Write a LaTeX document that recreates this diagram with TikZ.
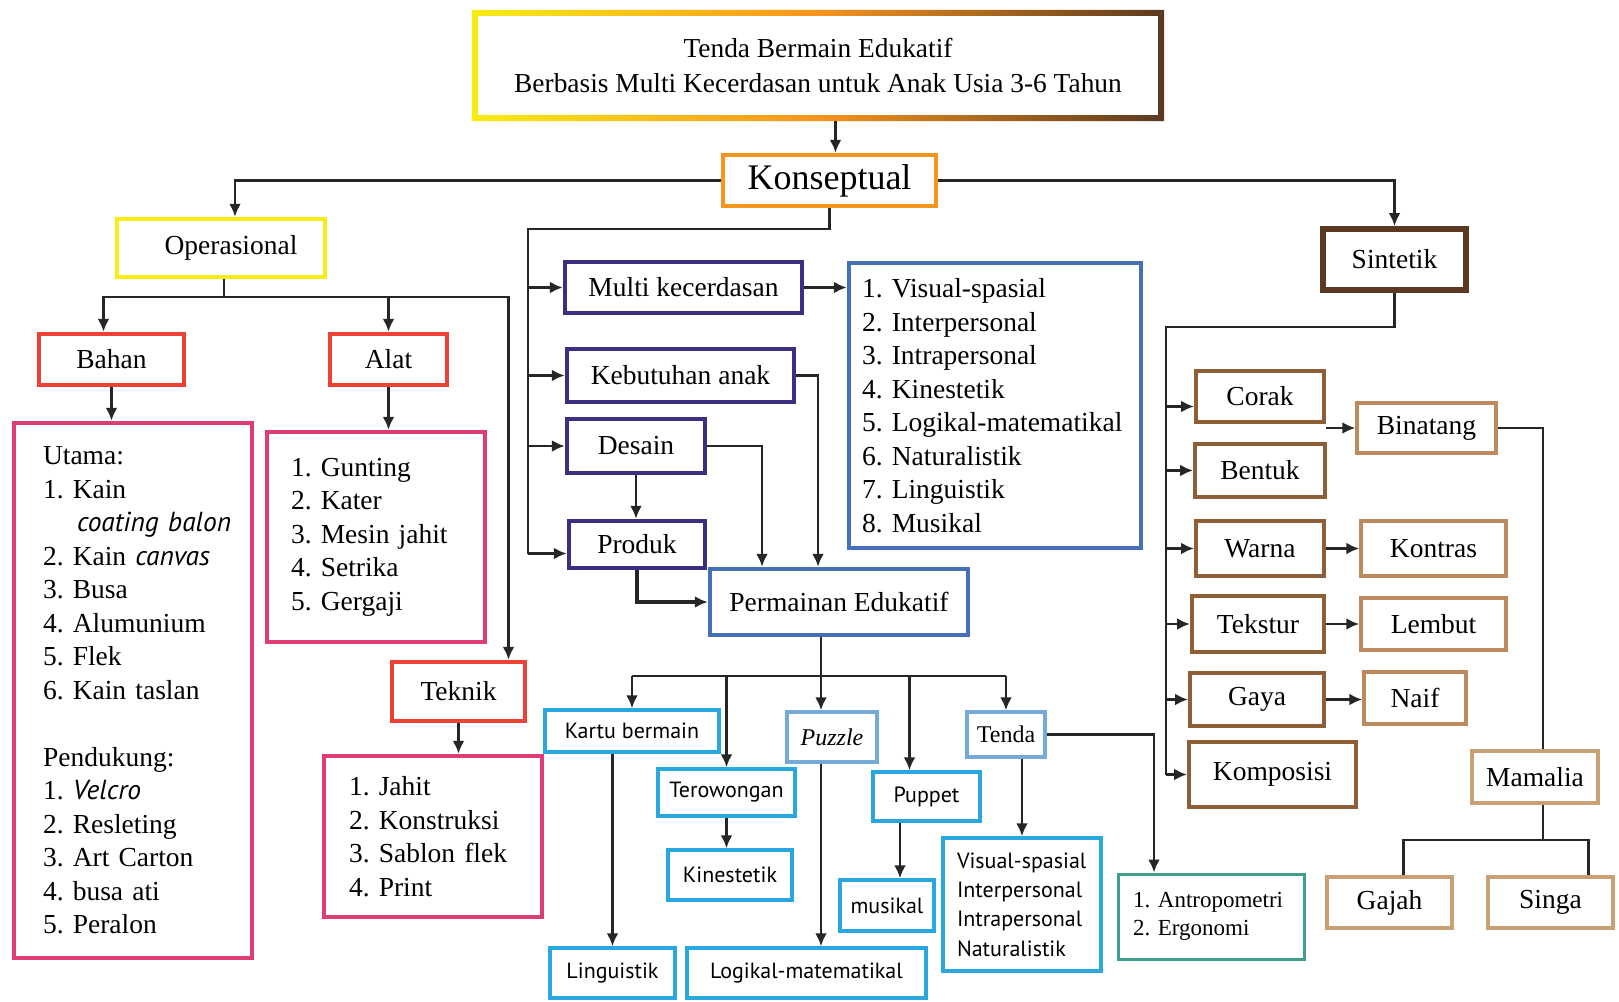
\documentclass[tikz,border=0pt]{standalone}
\usepackage{fontspec}
\setmainfont{Liberation Serif}
\setsansfont{PT Sans}
\usepackage{xcolor}
\usepackage{tikz}
\usetikzlibrary{arrows.meta,calc}
\frenchspacing

\definecolor{kuning}{HTML}{F7EC13}
\definecolor{oranye}{HTML}{F7941D}
\definecolor{merah}{HTML}{EE4136}
\definecolor{merahmuda}{HTML}{DE3C74}
\definecolor{ungu}{HTML}{3C2E80}
\definecolor{biru}{HTML}{4670B6}
\definecolor{birumuda}{HTML}{28A8DF}
\definecolor{birupucat}{HTML}{74A9D8}
\definecolor{hijautosca}{HTML}{3F9E8E}
\definecolor{coklattua}{HTML}{5A3920}
\definecolor{coklat}{HTML}{8E5E36}
\definecolor{coklatmuda}{HTML}{BC8A5C}
\definecolor{krem}{HTML}{C9A073}

\begin{document}
\begin{tikzpicture}[
  x=1pt, y=-1pt,
  serif/.style={font=\fontsize{27.5}{33.5}\selectfont},
  sans/.style={font=\sffamily\fontsize{22}{29.3}\selectfont},
  box/.style={draw, fill=white, line width=4.5pt, inner sep=0pt, align=center, serif},
  sz/.style 2 args={minimum width=#1pt, minimum height=#2pt},
  lst/.style n args={3}{text width=#1pt, inner xsep=#2pt, minimum height=#3pt, align=left},
  konsbox/.style={box, draw=oranye, font=\fontsize{36}{40}\selectfont},
  oprbox/.style={box, draw=kuning},
  catbox/.style={box, draw=merah},
  listbox/.style={box, draw=merahmuda},
  aspekbox/.style={box, draw=ungu},
  infobox/.style={box, draw=biru},
  gamebox/.style={box, draw=birumuda, line width=3.5pt, sans},
  gamebox2/.style={box, draw=birupucat, line width=3.5pt, font=\fontsize{24}{28}\selectfont},
  ukurbox/.style={box, draw=hijautosca, line width=3pt, font=\fontsize{23}{28}\selectfont},
  sintbox/.style={box, draw=coklattua, line width=6pt},
  unsurbox/.style={box, draw=coklat, line width=4pt},
  sifatbox/.style={box, draw=coklatmuda, line width=3.5pt},
  hewanbox/.style={box, draw=krem, line width=3.5pt},
  edge/.style={line width=2.6pt, draw=black!85},
  arrow/.style={edge, -{Latex[length=13pt,width=12pt]}}
]
  \fill[white] (0,0) rectangle (1619,1001);
  \useasboundingbox (0,0) rectangle (1619,1001);

  % judul
  \node[font=\fontsize{27.4}{35}\selectfont, align=center, inner sep=0pt,
    minimum width=692pt, minimum height=111pt] (title) at (818,65.5)
    {Tenda Bermain Edukatif\\Berbasis Multi Kecerdasan untuk Anak Usia 3-6 Tahun};
  \shade[even odd rule, left color=kuning, right color=coklattua, middle color=oranye]
    (title.north west) rectangle (title.south east)
    ([shift={(6,6)}]title.north west) rectangle ([shift={(-6,-6)}]title.south east);
  \node[konsbox, sz={213}{51}] (konsep) at (829.5,180.5) {Konseptual};

  % operasional
  \node[oprbox, sz={208}{58}] (oper) at (221,248) {\hspace*{20pt}Operasional};
  \node[catbox, sz={145}{51}] (bahan) at (111.5,359.5) {Bahan};
  \node[catbox, sz={117}{51}] (alat) at (388.5,359.5) {Alat};
  \node[catbox, sz={133}{59}] (teknik) at (458.5,691.5) {Teknik};
  \node[listbox, lst={180}{29}{535}] (blist) at (133,690.5)
    {Utama:\\1. Kain\\\mbox{\hspace*{34pt}\textsf{\itshape coating balon}}\\2. Kain \textsf{\itshape canvas}\\3. Busa\\4. Alumunium\\5. Flek\\6. Kain taslan\\[33.5pt]Pendukung:\\1. \textsf{\itshape Velcro}\\2. Resleting\\3. Art Carton\\4. busa ati\\5. Peralon};
  \node[listbox, lst={170}{24}{210}] (alist) at (376,537)
    {1. Gunting\\2. Kater\\3. Mesin jahit\\4. Setrika\\5. Gergaji};
  \node[listbox, lst={168}{25}{161}] (tlist) at (433,836.5)
    {1. Jahit\\2. Konstruksi\\3. Sablon flek\\4. Print};

  % konseptual
  \node[aspekbox, sz={237}{51}] (multi) at (683.5,287.5) {Multi kecerdasan};
  \node[infobox, lst={266}{13}{285}] (mlist) at (995,405.5)
    {1. Visual-spasial\\2. Interpersonal\\3. Intrapersonal\\4. Kinestetik\\5. Logikal-matematikal\\6. Naturalistik\\7. Linguistik\\8. Musikal};
  \node[aspekbox, sz={227}{53}] (kebut) at (680.5,375.5) {Kebutuhan anak};
  \node[aspekbox, sz={138}{54}] (desain) at (636,446) {Desain};
  \node[aspekbox, sz={136}{47}] (produk) at (637,544.5) {Produk};
  \node[infobox, sz={258}{66}] (perm) at (839,602) {Permainan Edukatif};

  % permainan
  \node[gamebox, sz={174}{42}] (kartu) at (632,731) {Kartu bermain};
  \node[gamebox, sz={125}{50}] (ling) at (612.5,973) {Linguistik};
  \node[gamebox, sz={239}{50}] (logik) at (806.5,973) {Logikal-matematikal};
  \node[gamebox2, sz={90}{50}] (puzzle) at (832,737) {\textit{Puzzle}};
  \node[gamebox, sz={137}{47}] (terow) at (726.5,792.5) {Terowongan};
  \node[gamebox, sz={124}{50}] (kinest) at (730,875) {Kinestetik};
  \node[gamebox, sz={107}{49}] (puppet) at (926.5,796.5) {Puppet};
  \node[gamebox, sz={94}{51}] (musik) at (887,905.5) {musikal};
  \node[gamebox2, sz={78}{45}] (tenda) at (1006,734.5) {Tenda};
  \node[gamebox, lst={130}{14}{133}] (visual) at (1022,904.5)
    {Visual-spasial\\Interpersonal\\Intrapersonal\\Naturalistik};
  \node[ukurbox, lst={156}{15}{85}] (antro) at (1211,916.5) {1. Antropometri\\2. Ergonomi};

  % sintetik
  \node[sintbox, sz={143}{61}] (sint) at (1394.5,259.5) {Sintetik};
  \node[unsurbox, sz={128}{51}] (corak) at (1260,396.5) {Corak};
  \node[unsurbox, sz={130}{53}] (bentuk) at (1260,470.5) {Bentuk};
  \node[unsurbox, sz={128}{55}] (warna) at (1260,548.5) {Warna};
  \node[unsurbox, sz={132}{56}] (tekstur) at (1258,624) {Tekstur};
  \node[unsurbox, sz={134}{53}] (gaya) at (1257,699.5) {Gaya};
  \node[unsurbox, sz={167}{65}] (kompos) at (1272.5,774.5) {Komposisi};
  \node[sifatbox, sz={139}{50}] (binat) at (1426.5,428) {Binatang};
  \node[sifatbox, sz={145}{55}] (kontras) at (1433.5,548.5) {Kontras};
  \node[sifatbox, sz={145}{52}] (lembut) at (1433.5,624) {Lembut};
  \node[sifatbox, sz={102}{52}] (naif) at (1415,698) {Naif};
  \node[hewanbox, sz={126}{52}] (mamal) at (1535,777) {Mamalia};
  \node[hewanbox, sz={125}{51}] (gajah) at (1389.5,902.5) {Gajah};
  \node[hewanbox, sz={125}{51}] (singa) at (1550.5,902.5) {Singa};

  % titik bantu
  \coordinate (kin) at ([xshift=6pt]konsep.north);
  \coordinate (oin) at ([xshift=14pt]oper.north);
  \coordinate (obar) at (224,297);
  \coordinate (bin) at ([xshift=-8pt]bahan.north);
  \coordinate (tin) at ([xshift=50pt]teknik.north);
  \coordinate (kspine) at (528,229);
  \coordinate (pin) at ([yshift=-9pt]produk.west);
  \coordinate (pbar) at (821,676);
  \coordinate (pupin) at ([xshift=-17pt]puppet.north);
  \coordinate (musin) at ([xshift=13pt]musik.north);
  \coordinate (antin) at ([xshift=-57pt]antro.north);
  \coordinate (sspine) at (1166,327);
  \coordinate (corin) at ([yshift=-10pt]corak.west);
  \coordinate (mamin) at ([xshift=8pt]mamal.north);
  \coordinate (mbar) at (1543,840);
  \coordinate (gin) at ([xshift=14pt]gajah.north);
  \coordinate (sgin) at ([xshift=38pt]singa.north);

  % panah atas
  \draw[arrow] (kin |- title.south) -- (kin);
  \draw[arrow] (konsep.west) -| (oin);
  \draw[arrow] (konsep.east) -| (sint.north);

  % cabang operasional
  \draw[edge] (obar |- oper.south) -- (obar);
  \draw[arrow] (obar) -| (bin);
  \draw[arrow] (obar) -| (alat.north);
  \draw[arrow] (obar) -| (tin);
  \draw[arrow] (bahan.south) -- (bahan.south |- blist.north);
  \draw[arrow] (alat.south) -- (alat.south |- alist.north);
  \draw[arrow] (teknik.south) -- (teknik.south |- tlist.north);

  % cabang konseptual
  \draw[edge] (konsep.south) |- (kspine) -- (kspine |- pin);
  \draw[arrow] (kspine |- multi) -- (multi.west);
  \draw[arrow] (kspine |- kebut) -- (kebut.west);
  \draw[arrow] (kspine |- desain) -- (desain.west);
  \draw[arrow] (kspine |- pin) -- (pin);
  \draw[arrow] (multi.east) -- (multi.east -| mlist.west);
  \draw[arrow] (kebut.east) -| ([xshift=-21pt]perm.north);
  \draw[arrow] (desain.east) -| ([xshift=-77pt]perm.north);
  \draw[arrow] (desain.south) -- (desain.south |- produk.north);
  \draw[arrow, line width=3.6pt] (produk.south) |- (perm.west);

  % cabang permainan
  \draw[edge] (pbar |- perm.south) -- (pbar);
  \draw[edge] (kartu.north |- pbar) -- (tenda.north |- pbar);
  \draw[arrow] (kartu.north |- pbar) -- (kartu.north);
  \draw[arrow] (terow.north |- pbar) -- (terow.north);
  \draw[arrow] (pbar) -- (pbar |- puzzle.north);
  \draw[arrow] (pupin |- pbar) -- (pupin);
  \draw[arrow] (tenda.north |- pbar) -- (tenda.north);
  \draw[arrow] (ling.north |- kartu.south) -- (ling.north);
  \draw[arrow] (pbar |- puzzle.south) -- (pbar |- logik.north);
  \draw[arrow] (terow.south) -- (terow.south |- kinest.north);
  \draw[arrow] (musin |- puppet.south) -- (musin);
  \draw[arrow] (visual.north |- tenda.south) -- (visual.north);
  \draw[arrow] (tenda.east) -| (antin);

  % cabang sintetik
  \draw[edge] (sint.south) |- (sspine) -- (sspine |- kompos);
  \draw[arrow] (sspine |- corin) -- (corin);
  \draw[arrow] (sspine |- bentuk) -- (bentuk.west);
  \draw[arrow] (sspine |- warna) -- (warna.west);
  \draw[arrow] (sspine |- tekstur) -- (tekstur.west);
  \draw[arrow] (sspine |- gaya) -- (gaya.west);
  \draw[arrow] (sspine |- kompos) -- (kompos.west);
  \draw[arrow] (corak.east |- binat.west) -- (binat.west);
  \draw[arrow] (warna.east) -- (warna.east -| kontras.west);
  \draw[arrow] (tekstur.east) -- (tekstur.east -| lembut.west);
  \draw[arrow] (gaya.east) -- (gaya.east -| naif.west);
  \draw[edge] (binat.east) -| (mamin);
  \draw[edge] (mamin |- mamal.south) -- (mbar);
  \draw[edge] (gin) |- (mbar) -| (sgin);
\end{tikzpicture}
\end{document}
